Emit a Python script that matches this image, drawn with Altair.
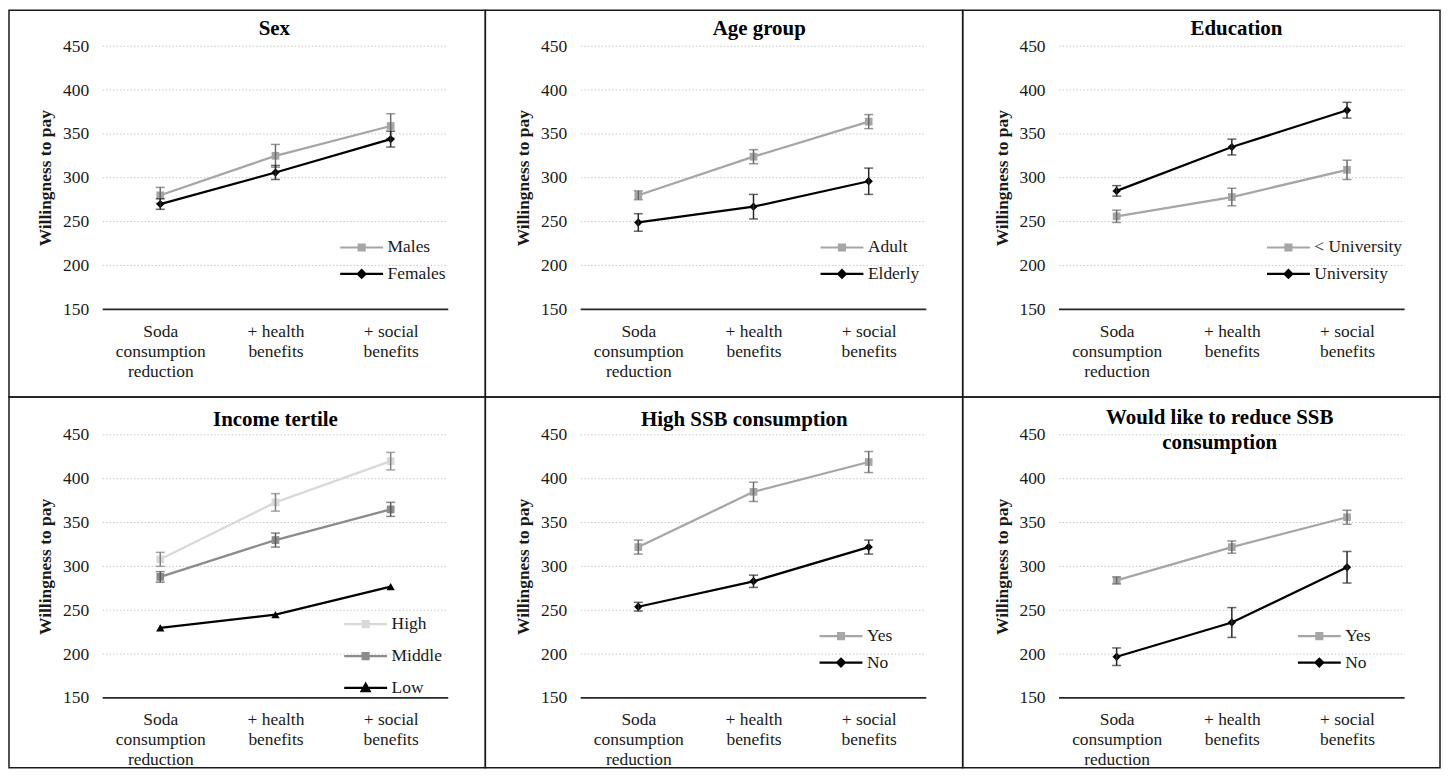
import json
import altair as alt
import pandas as pd

# ---------------- data ----------------
categories = ["Soda consumption reduction", "+ health benefits", "+ social benefits"]
category_label_lines = ["Soda|consumption|reduction", "+ health|benefits", "+ social|benefits"]
y_ticks = [150, 200, 250, 300, 350, 400, 450]
grid_values = [200, 250, 300, 350, 400, 450]

panel_titles = ["Sex", "Age group", "Education", "Income tertile",
                "High SSB consumption", "Would like to reduce SSB|consumption"]

sex_names = ["Males", "Females"]
sex_males = [280, 325, 359]
sex_males_err = [9, 13, 14]
sex_females = [270, 306, 344]
sex_females_err = [6, 8, 9]

age_names = ["Adult", "Elderly"]
age_adult = [280, 324, 364]
age_adult_err = [5, 8, 8]
age_elderly = [249, 267, 296]
age_elderly_err = [10, 14, 15]

edu_names = ["< University", "University"]
edu_below = [256, 278, 309]
edu_below_err = [7, 10, 11]
edu_university = [285, 335, 377]
edu_university_err = [6, 9, 9]

inc_names = ["High", "Middle", "Low"]
inc_high = [308, 373, 420]
inc_high_err = [8, 10, 10]
inc_middle = [288, 330, 365]
inc_middle_err = [6, 8, 8]
inc_low = [230, 245, 277]
inc_low_err = [0, 0, 0]

ssb_names = ["Yes", "No"]
ssb_yes = [322, 385, 419]
ssb_yes_err = [8, 11, 12]
ssb_no = [254, 283, 322]
ssb_no_err = [5, 7, 8]

red_names = ["Yes", "No"]
red_yes = [284, 322, 356]
red_yes_err = [4, 7, 8]
red_no = [197, 236, 299]
red_no_err = [10, 17, 18]

# ---------------- styles ----------------
FONT = "Liberation Serif"
TXT = "#1a1a1a"
GRAY = dict(color="#a6a6a6", shape="square", err="#6a6a6a")
BLACK_D = dict(color="#000000", shape="diamond", err="#262626")
LIGHT = dict(color="#d9d9d9", shape="square", err="#808080")
MID = dict(color="#8c8c8c", shape="square", err="#595959")
BLACK_T = dict(color="#000000", shape="triangle-up", err="#262626")

LEGEND_PATH = {
    "square": "M-2.53,0H2.53M-0.35,-0.35H0.35V0.35H-0.35Z",
    "diamond": "M-2.53,0H2.53M0,-0.45L0.45,0L0,0.45L-0.45,0Z",
    "triangle-up": "M-2.53,0H2.53M0,-0.5L0.48,0.38L-0.48,0.38Z",
}
MARK_SIZE = {"square": 60, "diamond": 70, "triangle-up": 70}

# ---------------- geometry ----------------
COL_LEFT = [8, 486, 965]
COL_W = [478, 479, 479]
PLOT_LEFT = [102, 581.7, 1061.7]
ROW_TOP = [8, 396]
ROW_H = [388, 372]
Y450 = [44, 434]
K = 115.6
PPU = 0.88

label_expr = "split(" + json.dumps(category_label_lines) + "[datum.value], '|')"


def make_panel(col, row, title, title_pos, series, legend_pos, row_pad):
    w, h = COL_W[col], ROW_H[row]
    lrel = PLOT_LEFT[col] - COL_LEFT[col]
    x0 = -0.5 - lrel / K
    x1 = x0 + w / K
    y1 = 450 + (Y450[row] - ROW_TOP[row]) / PPU
    y0 = y1 - h / PPU
    xs = alt.Scale(domain=[x0, x1], nice=False, zero=False)
    ys = alt.Scale(domain=[y0, y1], nice=False, zero=False)

    grid_df = pd.DataFrame({"v": grid_values, "a": -0.5, "b": 2.5})
    grid = alt.Chart(grid_df).mark_rule(color="#c8c8c8", strokeWidth=1, strokeDash=[1.5, 2]).encode(
        x=alt.X("a:Q", scale=xs, axis=alt.Axis(
            values=[0, 1, 2], orient="bottom", offset=-(h - (y1 - 150) * PPU),
            domain=False, ticks=False, grid=False, title=None,
            labelExpr=label_expr, labelBaseline="top", labelPadding=13, labelLineHeight=20,
            labelFont=FONT, labelFontSize=17.5, labelColor=TXT, labelOverlap=False,
            labelFlush=False, labelAlign="center")),
        x2="b:Q",
        y=alt.Y("v:Q", scale=ys, axis=alt.Axis(
            values=y_ticks, orient="left", offset=-(lrel - 10),
            domain=False, ticks=False, grid=False,
            labelFont=FONT, labelFontSize=17.5, labelColor=TXT, labelPadding=4,
            title="Willingness to pay", titleFont=FONT, titleFontSize=17.5,
            titleFontWeight="bold", titleColor=TXT, titleX=-47,
            titleY=(y1 - 300) * PPU, titleAngle=270, titleAlign="center",
            titleBaseline="middle")),
    )
    base_df = pd.DataFrame({"v": [150], "a": [-0.5], "b": [2.5]})
    baseline = alt.Chart(base_df).mark_rule(color="#262626", strokeWidth=1.8).encode(
        x=alt.X("a:Q", scale=xs, axis=None), x2="b:Q",
        y=alt.Y("v:Q", scale=ys, axis=None))

    title_df = pd.DataFrame({"t": [title], "x": [title_pos[0]], "y": [title_pos[1]]})
    title_layer = alt.Chart(title_df).mark_text(
        font=FONT, fontSize=21, fontWeight="bold", color="#000", lineBreak="|",
        baseline="middle", lineHeight=26).encode(
        x=alt.X("x:Q", scale=xs, axis=None), y=alt.Y("y:Q", scale=ys, axis=None), text="t:N")

    layers = [grid, baseline, title_layer]
    rows = []
    for name, vals, errs, st in series:
        df = pd.DataFrame({"cat": [0, 1, 2], "series": name, "mean": vals,
                           "lo": [v - e for v, e in zip(vals, errs)],
                           "hi": [v + e for v, e in zip(vals, errs)]})
        rows.append(df)
        bx = alt.X("cat:Q", scale=xs, axis=None)
        line = alt.Chart(df).mark_line(color=st["color"], strokeWidth=2.25).encode(
            x=bx, y=alt.Y("mean:Q", scale=ys, axis=None))
        pts = alt.Chart(df).mark_point(filled=True, opacity=1, shape=st["shape"],
                                       size=MARK_SIZE[st["shape"]], color=st["color"]).encode(
            x=bx, y=alt.Y("mean:Q", scale=ys, axis=None))
        layers += [line, pts]
        if max(errs) > 0:
            rule = alt.Chart(df).mark_rule(color=st["err"], strokeWidth=1.5).encode(
                x=bx, y=alt.Y("lo:Q", scale=ys, axis=None), y2="hi:Q")
            caps = alt.Chart(df).transform_fold(["lo", "hi"], as_=["k", "yv"]).mark_tick(
                orient="horizontal", size=9, thickness=1.5, color=st["err"]).encode(
                x=bx, y=alt.Y("yv:Q", scale=ys, axis=None))
            layers += [rule, caps]

    all_df = pd.concat(rows, ignore_index=True)
    names = [s[0] for s in series]
    colors = [s[3]["color"] for s in series]
    paths = [LEGEND_PATH[s[3]["shape"]] for s in series]
    leg = alt.Legend(title=None, orient="none", legendX=legend_pos[0] + 11.9,
                     legendY=legend_pos[1], symbolSize=289, symbolStrokeWidth=2.2,
                     symbolOpacity=1, labelFont=FONT, labelFontSize=17.5, labelColor=TXT,
                     labelOffset=16, rowPadding=row_pad, padding=0, labelLimit=0,
                     direction="vertical")
    legend_layer = alt.Chart(all_df).mark_point(filled=True, opacity=0).encode(
        x=alt.X("cat:Q", scale=xs, axis=None),
        y=alt.Y("mean:Q", scale=ys, axis=None),
        fill=alt.Fill("series:N", scale=alt.Scale(domain=names, range=colors), legend=leg),
        stroke=alt.Stroke("series:N", scale=alt.Scale(domain=names, range=colors), legend=leg),
        shape=alt.Shape("series:N", scale=alt.Scale(domain=names, range=paths), legend=leg),
    )
    layers.append(legend_layer)
    return alt.layer(*layers).resolve_axis(x="independent", y="independent").properties(
        width=w, height=h)


p1 = make_panel(0, 0, panel_titles[0], (0.99, 469.3),
                [(sex_names[0], sex_males, sex_males_err, GRAY),
                 (sex_names[1], sex_females, sex_females_err, BLACK_D)], (332, 228), 7.5)
p2 = make_panel(1, 0, panel_titles[1], (1.05, 469.3),
                [(age_names[0], age_adult, age_adult_err, GRAY),
                 (age_names[1], age_elderly, age_elderly_err, BLACK_D)], (336, 228), 7.5)
p3 = make_panel(2, 0, panel_titles[2], (1.04, 469.3),
                [(edu_names[0], edu_below, edu_below_err, GRAY),
                 (edu_names[1], edu_university, edu_university_err, BLACK_D)], (305, 228), 7.5)
p4 = make_panel(0, 1, panel_titles[3], (1.0, 467),
                [(inc_names[0], inc_high, inc_high_err, LIGHT),
                 (inc_names[1], inc_middle, inc_middle_err, MID),
                 (inc_names[2], inc_low, inc_low_err, BLACK_T)], (336, 218), 13)
p5 = make_panel(1, 1, panel_titles[4], (0.92, 467),
                [(ssb_names[0], ssb_yes, ssb_yes_err, GRAY),
                 (ssb_names[1], ssb_no, ssb_no_err, BLACK_D)], (335, 230), 7.5)
p6 = make_panel(2, 1, panel_titles[5], (0.895, 469.7),
                [(red_names[0], red_yes, red_yes_err, GRAY),
                 (red_names[1], red_no, red_no_err, BLACK_D)], (336, 230), 7.5)

chart = alt.concat(p1, p2, p3, p4, p5, p6, columns=3, spacing=0, bounds="flush").properties(
    padding=0, background="white"
).resolve_scale(
    x="independent", y="independent", fill="independent", stroke="independent", shape="independent"
).configure_view(stroke="#1a1a1a", strokeWidth=1.5)

chart.save("out.html", embed_options={"renderer": "svg", "actions": False})
